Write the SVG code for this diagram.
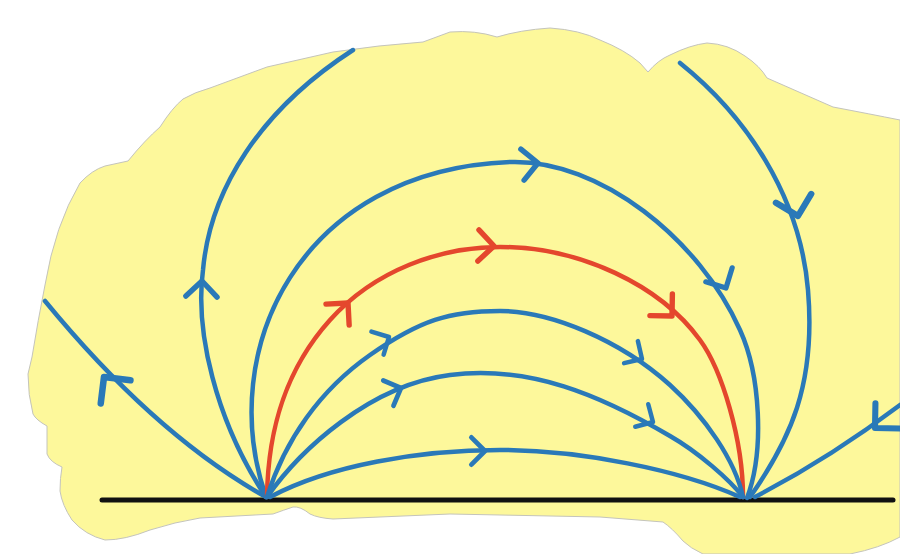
<svg xmlns="http://www.w3.org/2000/svg" xmlns:xlink="http://www.w3.org/1999/xlink" width="900" height="554" viewBox="0 0 900 554">
  <style>
    .blob { fill: #fdf89b; stroke: #c4c4bc; stroke-width: 1; }
    .ground { stroke: #111111; stroke-width: 5; stroke-linecap: round; fill: none; }
    .blue { stroke: #2a79b8; stroke-width: 4.5; fill: none; stroke-linecap: round; stroke-linejoin: round; }
    .red { stroke: #e4472d; stroke-width: 4.5; fill: none; stroke-linecap: round; stroke-linejoin: round; }
  </style>
  <defs>
    <path id="chev" d="M-13,-13 L0,0 L-13,13"/>
  </defs>
  <rect x="0" y="0" width="900" height="554" fill="#ffffff"/>
  <g id="background">
    <path class="blob" d="M28,374 L32,357 Q38,320 45,285 Q55,225 80,183 Q92,170 105,166 L128,161 Q145,140 160,127 Q172,108 183,99 Q195,92 210,88 L267,67 L333,52 Q380,45 423,42 L450,32 Q475,30 497,37 Q520,30 550,28 Q580,30 600,40 Q625,50 640,63 L648,72 Q658,60 670,55 Q690,45 707,43 Q728,44 745,56 Q760,66 767,78 L833,107 Q870,114 900,120 L900,537 Q880,548 850,554 L703,554 Q690,548 683,541 Q672,528 663,522 L600,517 L450,514 L333,519 Q318,518 310,514 Q300,506 293,507 Q284,510 273,514 L200,518 Q175,522 150,530 Q125,540 105,540 Q85,535 72,520 Q62,505 60,491 Q60,478 62,467 Q50,462 47,454 L47,426 Q36,420 33,414 Q28,395 28,374 Z"/>
  </g>
  <g id="ground">
    <line class="ground" x1="102" y1="500" x2="893" y2="500"/>
  </g>
  <g id="field-lines">
    <path id="left-open" class="blue" d="M266,497 Q155,435 45,301"/>
    <path id="left-loop" class="blue" d="M266,497 C215,420 195,330 203,270 C210,190 260,110 353,50"/>
    <path id="arch-outer" class="blue" d="M266,497 C215,350 300,170 510,162 C600,159 700,240 740,330 C760,374 765,450 747,498"/>
    <path id="arch-red" class="red" d="M267,497 C268,430 285,370 330,320 S440,247 500,247 C580,247 660,285 700,340 C722,370 743,440 743,497"/>
    <path id="arch-3" class="blue" d="M267,497 C285,440 320,390 370,355 S450,311 500,311 S620,340 670,385 C705,417 735,460 743,497"/>
    <path id="arch-4" class="blue" d="M267,497 C300,450 370,385 450,375 S600,395 670,436 C698,452 730,480 743,497"/>
    <path id="arch-bottom" class="blue" d="M270,497 C330,465 420,450 500,450 S680,470 740,497"/>
    <path id="right-loop" class="blue" d="M680,63 C745,115 800,195 808,290 S790,440 750,497"/>
    <path id="right-open" class="blue" d="M755,497 Q830,458 900,405"/>
  </g>
  <g id="arrowheads">
    <use xlink:href="#chev" class="blue" transform="translate(104,377) rotate(-128) scale(1.45)"/>
    <use xlink:href="#chev" class="blue" transform="translate(202,281) rotate(-88) scale(1.2)"/>
    <use xlink:href="#chev" class="blue" transform="translate(538,163) rotate(-6) scale(1.2)"/>
    <use xlink:href="#chev" class="blue" transform="translate(726,288) rotate(62) scale(1.15)"/>
    <use xlink:href="#chev" class="red" transform="translate(348,303) rotate(-48) scale(1.2)"/>
    <use xlink:href="#chev" class="red" transform="translate(494,246) rotate(2) scale(1.2)"/>
    <use xlink:href="#chev" class="red" transform="translate(672,316) rotate(46) scale(1.2)"/>
    <use xlink:href="#chev" class="blue" transform="translate(389,337) rotate(-28) scale(1)"/>
    <use xlink:href="#chev" class="blue" transform="translate(642,359) rotate(32) scale(1)"/>
    <use xlink:href="#chev" class="blue" transform="translate(401,388) rotate(-22) scale(1.05)"/>
    <use xlink:href="#chev" class="blue" transform="translate(653,422) rotate(30) scale(1)"/>
    <use xlink:href="#chev" class="blue" transform="translate(485,451) rotate(0) scale(1.05)"/>
    <use xlink:href="#chev" class="blue" transform="translate(798,216) rotate(76) scale(1.4)"/>
    <use xlink:href="#chev" class="blue" transform="translate(875,428) rotate(136) scale(1.35)"/>
  </g>
</svg>
